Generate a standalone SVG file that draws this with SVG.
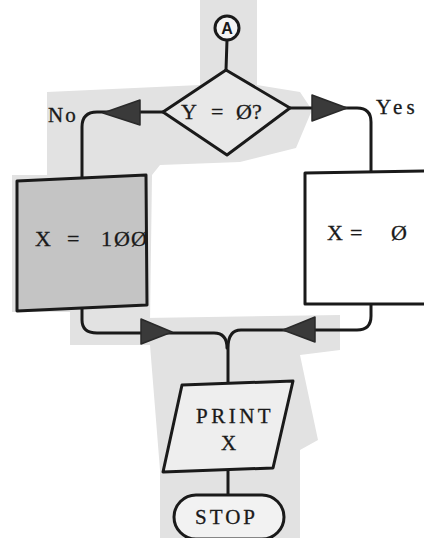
<svg xmlns="http://www.w3.org/2000/svg" width="424" height="538" viewBox="0 0 424 538">
<defs>
<style>
.ln{fill:none;stroke:#1a1a1a;stroke-width:3;stroke-linecap:round;stroke-linejoin:round}
.sh{stroke:#1a1a1a;stroke-width:3;stroke-linejoin:round}
.ah{fill:#3a3a3a;stroke:#2a2a2a;stroke-width:1.5;stroke-linejoin:round}
.tx{font-family:"Liberation Serif","DejaVu Serif",serif;font-size:21px;fill:#1a1a1a;letter-spacing:3.5px;stroke:#1a1a1a;stroke-width:0.3}
.big{font-family:"Liberation Serif","DejaVu Serif",serif;font-size:22px;fill:#1a1a1a;stroke:#1a1a1a;stroke-width:0.3}
.bg{fill:#e2e2e2}
</style>
</defs>
<rect width="424" height="538" fill="#ffffff"/>
<g id="background">
<rect class="bg" x="200" y="0" width="57" height="85"/>
<polygon class="bg" points="47,92 200,85 257,85 300,92 312,110 296,148 240,162 160,165 152,175 150,322 70,322 70,312 12,312 12,175 47,175"/>
<polygon class="bg" points="70,310 150,310 150,318 145,318 340,315 340,350 300,355 318,440 300,450 300,538 160,538 160,470 150,345 70,345"/>
</g>
<g id="connectors">
<line class="ln" x1="227" y1="40" x2="226" y2="70"/>
<path class="ln" d="M163,112 H97 Q82,112 82,127 V178"/>
<polygon class="ah" points="140,100 140,125 103,113"/>
<path class="ln" d="M290,108 H357 Q371,108 371,122 V172"/>
<polygon class="ah" points="312,95 312,121 347,108"/>
<path class="ln" d="M82,308 V320 Q82,333 97,333 H214 Q227,333 227,348"/>
<polygon class="ah" points="141,319 141,344 172,332"/>
<path class="ln" d="M371,304 V316 Q371,330 357,330 H241 Q228,330 228,348 V383"/>
<polygon class="ah" points="315,317 315,342 283,330"/>
<line class="ln" x1="228" y1="470" x2="228" y2="494"/>
</g>
<g id="connector-A">
<circle cx="227" cy="28" r="12" fill="#f4f4f4" class="sh"/>
<text x="227" y="34" text-anchor="middle" font-family="'Liberation Sans',Arial,sans-serif" font-size="16" font-weight="bold" fill="#1a1a1a">A</text>
</g>
<g id="decision">
<polygon class="sh" fill="#e8e8e8" points="226,70 290,108 227,155 163,112"/>
<text class="big" x="181" y="119">Y</text>
<text class="big" x="211" y="119">=</text>
<text class="big" x="236" y="119">Ø</text>
<text class="big" x="252" y="119">?</text>
</g>
<text id="label-no" class="tx" x="48" y="122" style="letter-spacing:2px">No</text>
<text id="label-yes" class="tx" x="376" y="114" style="letter-spacing:4px">Yes</text>
<g id="set-100">
<polygon class="sh" fill="#c4c4c4" points="17,181 146,175 147,305 17,311"/>
<text class="big" x="35" y="246" font-size="23">X</text>
<text class="big" x="67" y="246" font-size="23">=</text>
<text class="big" x="101" y="246" font-size="23">1</text>
<text class="big" x="114" y="246" font-size="23">Ø</text>
<text class="big" x="131" y="246" font-size="23">Ø</text>
</g>
<g id="set-0">
<polygon class="sh" fill="#ffffff" points="305,173 430,171 430,304 305,304"/>
<text class="big" x="327" y="240">X</text>
<text class="big" x="350" y="240">=</text>
<text class="big" x="391" y="240">Ø</text>
</g>
<g id="print">
<polygon class="sh" fill="#eeeeee" points="182,385 293,381 273,468 163,472"/>
<text class="tx" x="196" y="423">PRINT</text>
<text class="tx" x="221" y="450">X</text>
</g>
<g id="stop">
<rect class="sh" fill="#f2f2f2" x="174" y="495" width="110" height="44" rx="22"/>
<text class="tx" x="195" y="524" style="letter-spacing:3px">STOP</text>
</g>
</svg>
